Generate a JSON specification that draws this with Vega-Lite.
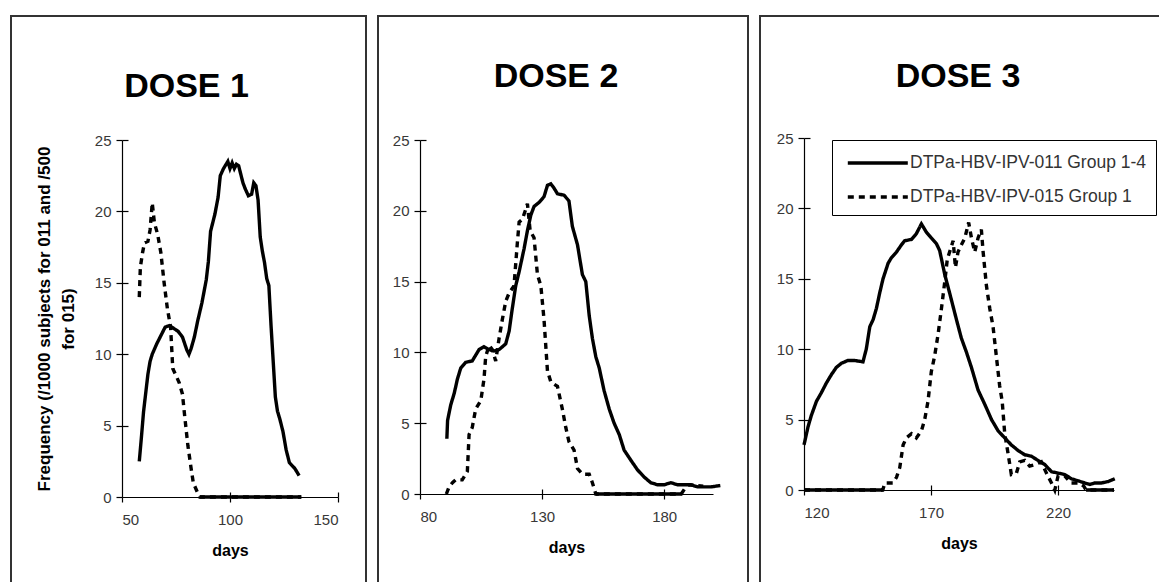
{
  "$schema": "https://vega.github.io/schema/vega-lite/v6.json",
  "padding": {"left": 10, "top": 15, "right": -7, "bottom": -9},
  "spacing": 10,
  "config": {
    "view": {"stroke": "#333", "strokeWidth": 2},
    "font": "Liberation Sans",
    "axis": {"grid": false, "domainColor": "black", "tickColor": "black", "domainWidth": 1.2, "tickWidth": 1.2, "labelColor": "#383838", "labelFont": "Liberation Sans", "labelFontSize": 15, "titleFont": "Liberation Sans", "titleFontSize": 16, "titleFontWeight": "bold", "titleColor": "black"},
    "title": {"font": "Liberation Sans", "fontSize": 34, "fontWeight": "bold", "color": "black", "anchor": "middle", "frame": "group", "baseline": "alphabetic"},
    "line": {"color": "black", "strokeWidth": 3.4, "strokeCap": "butt"}
  },
  "data": {"values": [
    {"dose":1,"series":"011","day":58,"freq":2.5},{"dose":1,"series":"011","day":59,"freq":4.2},{"dose":1,"series":"011","day":60,"freq":6.0},{"dose":1,"series":"011","day":61,"freq":7.3},{"dose":1,"series":"011","day":62,"freq":8.6},{"dose":1,"series":"011","day":63,"freq":9.5},{"dose":1,"series":"011","day":64,"freq":10.0},{"dose":1,"series":"011","day":66,"freq":10.7},{"dose":1,"series":"011","day":68,"freq":11.3},{"dose":1,"series":"011","day":70,"freq":11.9},{"dose":1,"series":"011","day":72,"freq":12.0},{"dose":1,"series":"011","day":74,"freq":11.8},{"dose":1,"series":"011","day":76,"freq":11.6},{"dose":1,"series":"011","day":78,"freq":11.2},{"dose":1,"series":"011","day":80,"freq":10.3},{"dose":1,"series":"011","day":81,"freq":10.0},{"dose":1,"series":"011","day":82,"freq":10.4},{"dose":1,"series":"011","day":83.5,"freq":11.2},{"dose":1,"series":"011","day":85,"freq":12.3},{"dose":1,"series":"011","day":87,"freq":13.6},{"dose":1,"series":"011","day":89,"freq":15.2},{"dose":1,"series":"011","day":90,"freq":16.5},{"dose":1,"series":"011","day":91,"freq":18.6},{"dose":1,"series":"011","day":93,"freq":19.8},{"dose":1,"series":"011","day":94.5,"freq":21.0},{"dose":1,"series":"011","day":95.5,"freq":22.5},{"dose":1,"series":"011","day":97,"freq":23.0},{"dose":1,"series":"011","day":99,"freq":23.5},{"dose":1,"series":"011","day":100,"freq":23.0},{"dose":1,"series":"011","day":101,"freq":23.4},{"dose":1,"series":"011","day":102,"freq":23.0},{"dose":1,"series":"011","day":103,"freq":23.3},{"dose":1,"series":"011","day":104,"freq":23.2},{"dose":1,"series":"011","day":105,"freq":22.6},{"dose":1,"series":"011","day":106,"freq":22.0},{"dose":1,"series":"011","day":107,"freq":21.6},{"dose":1,"series":"011","day":108.5,"freq":21.1},{"dose":1,"series":"011","day":110,"freq":21.2},{"dose":1,"series":"011","day":111,"freq":22.0},{"dose":1,"series":"011","day":112,"freq":21.8},{"dose":1,"series":"011","day":113,"freq":20.8},{"dose":1,"series":"011","day":114,"freq":18.2},{"dose":1,"series":"011","day":115,"freq":17.2},{"dose":1,"series":"011","day":116,"freq":16.4},{"dose":1,"series":"011","day":117,"freq":15.3},{"dose":1,"series":"011","day":118,"freq":14.8},{"dose":1,"series":"011","day":119,"freq":12.0},{"dose":1,"series":"011","day":120,"freq":9.5},{"dose":1,"series":"011","day":121,"freq":7.0},{"dose":1,"series":"011","day":122,"freq":6.0},{"dose":1,"series":"011","day":123,"freq":5.5},{"dose":1,"series":"011","day":124.5,"freq":4.6},{"dose":1,"series":"011","day":126,"freq":3.3},{"dose":1,"series":"011","day":127.5,"freq":2.4},{"dose":1,"series":"011","day":130,"freq":2.0},{"dose":1,"series":"011","day":132,"freq":1.5},
    {"dose":1,"series":"015","day":58,"freq":14.0},{"dose":1,"series":"015","day":58.5,"freq":16.1},{"dose":1,"series":"015","day":59.5,"freq":17.1},{"dose":1,"series":"015","day":60.4,"freq":17.8},{"dose":1,"series":"015","day":62,"freq":17.9},{"dose":1,"series":"015","day":63,"freq":18.7},{"dose":1,"series":"015","day":64,"freq":20.6},{"dose":1,"series":"015","day":65,"freq":19.2},{"dose":1,"series":"015","day":66.5,"freq":18.4},{"dose":1,"series":"015","day":68,"freq":17.1},{"dose":1,"series":"015","day":69.5,"freq":15.0},{"dose":1,"series":"015","day":71,"freq":13.2},{"dose":1,"series":"015","day":72.5,"freq":11.9},{"dose":1,"series":"015","day":73.5,"freq":9.0},{"dose":1,"series":"015","day":75,"freq":8.5},{"dose":1,"series":"015","day":76.5,"freq":8.0},{"dose":1,"series":"015","day":78,"freq":7.2},{"dose":1,"series":"015","day":79,"freq":5.7},{"dose":1,"series":"015","day":80.5,"freq":3.6},{"dose":1,"series":"015","day":82,"freq":2.0},{"dose":1,"series":"015","day":83,"freq":1.0},{"dose":1,"series":"015","day":85,"freq":0.3},{"dose":1,"series":"015","day":86,"freq":0},{"dose":1,"series":"015","day":133,"freq":0},
    {"dose":1,"series":"015z","day":86,"freq":0},{"dose":1,"series":"015z","day":133,"freq":0},
    {"dose":2,"series":"011","day":91,"freq":3.9},{"dose":2,"series":"011","day":91.3,"freq":5.2},{"dose":2,"series":"011","day":92.6,"freq":6.3},{"dose":2,"series":"011","day":94,"freq":7.1},{"dose":2,"series":"011","day":95.3,"freq":8.1},{"dose":2,"series":"011","day":96.7,"freq":8.9},{"dose":2,"series":"011","day":98.7,"freq":9.3},{"dose":2,"series":"011","day":101.4,"freq":9.4},{"dose":2,"series":"011","day":102.8,"freq":9.8},{"dose":2,"series":"011","day":104.2,"freq":10.2},{"dose":2,"series":"011","day":106.2,"freq":10.4},{"dose":2,"series":"011","day":108.3,"freq":10.2},{"dose":2,"series":"011","day":110.3,"freq":10.1},{"dose":2,"series":"011","day":112.4,"freq":10.2},{"dose":2,"series":"011","day":115.1,"freq":10.6},{"dose":2,"series":"011","day":116.5,"freq":11.5},{"dose":2,"series":"011","day":117.8,"freq":13.1},{"dose":2,"series":"011","day":119.2,"freq":14.7},{"dose":2,"series":"011","day":120.6,"freq":15.7},{"dose":2,"series":"011","day":122.6,"freq":17.3},{"dose":2,"series":"011","day":124,"freq":18.6},{"dose":2,"series":"011","day":125.4,"freq":19.7},{"dose":2,"series":"011","day":126.7,"freq":20.3},{"dose":2,"series":"011","day":128.8,"freq":20.6},{"dose":2,"series":"011","day":130.8,"freq":21.0},{"dose":2,"series":"011","day":132.2,"freq":21.8},{"dose":2,"series":"011","day":133.6,"freq":21.9},{"dose":2,"series":"011","day":134.9,"freq":21.6},{"dose":2,"series":"011","day":136.3,"freq":21.2},{"dose":2,"series":"011","day":139,"freq":21.1},{"dose":2,"series":"011","day":141,"freq":20.7},{"dose":2,"series":"011","day":142.4,"freq":18.9},{"dose":2,"series":"011","day":144.5,"freq":17.6},{"dose":2,"series":"011","day":146.5,"freq":15.5},{"dose":2,"series":"011","day":147.9,"freq":15.0},{"dose":2,"series":"011","day":149.3,"freq":12.6},{"dose":2,"series":"011","day":150.6,"freq":11.0},{"dose":2,"series":"011","day":152,"freq":9.7},{"dose":2,"series":"011","day":153.4,"freq":8.9},{"dose":2,"series":"011","day":155.4,"freq":7.3},{"dose":2,"series":"011","day":157.5,"freq":6.0},{"dose":2,"series":"011","day":159.5,"freq":5.0},{"dose":2,"series":"011","day":161.6,"freq":4.2},{"dose":2,"series":"011","day":163.6,"freq":3.1},{"dose":2,"series":"011","day":166.3,"freq":2.4},{"dose":2,"series":"011","day":169.1,"freq":1.7},{"dose":2,"series":"011","day":171.8,"freq":1.2},{"dose":2,"series":"011","day":174.5,"freq":0.8},{"dose":2,"series":"011","day":177.3,"freq":0.65},{"dose":2,"series":"011","day":180,"freq":0.65},{"dose":2,"series":"011","day":182.7,"freq":0.8},{"dose":2,"series":"011","day":185.5,"freq":0.65},{"dose":2,"series":"011","day":191,"freq":0.65},{"dose":2,"series":"011","day":193.7,"freq":0.5},{"dose":2,"series":"011","day":199.1,"freq":0.5},{"dose":2,"series":"011","day":203,"freq":0.6},
    {"dose":2,"series":"015","day":90.8,"freq":0},{"dose":2,"series":"015","day":91.9,"freq":0.5},{"dose":2,"series":"015","day":93.3,"freq":0.8},{"dose":2,"series":"015","day":94.6,"freq":1.0},{"dose":2,"series":"015","day":97.3,"freq":1.0},{"dose":2,"series":"015","day":99.4,"freq":1.6},{"dose":2,"series":"015","day":100.1,"freq":4.2},{"dose":2,"series":"015","day":101.4,"freq":4.7},{"dose":2,"series":"015","day":102.8,"freq":6.0},{"dose":2,"series":"015","day":104.9,"freq":6.6},{"dose":2,"series":"015","day":106.2,"freq":8.1},{"dose":2,"series":"015","day":106.9,"freq":9.7},{"dose":2,"series":"015","day":108.3,"freq":10.5},{"dose":2,"series":"015","day":109.6,"freq":10.2},{"dose":2,"series":"015","day":111,"freq":9.4},{"dose":2,"series":"015","day":112.4,"freq":11.0},{"dose":2,"series":"015","day":113.7,"freq":12.3},{"dose":2,"series":"015","day":115.1,"freq":13.6},{"dose":2,"series":"015","day":116.5,"freq":14.2},{"dose":2,"series":"015","day":118.5,"freq":14.7},{"dose":2,"series":"015","day":119.9,"freq":17.8},{"dose":2,"series":"015","day":120.6,"freq":19.2},{"dose":2,"series":"015","day":121.9,"freq":19.4},{"dose":2,"series":"015","day":123.3,"freq":20.1},{"dose":2,"series":"015","day":124,"freq":20.5},{"dose":2,"series":"015","day":125.1,"freq":18.6},{"dose":2,"series":"015","day":126.7,"freq":18.1},{"dose":2,"series":"015","day":128.1,"freq":15.5},{"dose":2,"series":"015","day":129.5,"freq":14.7},{"dose":2,"series":"015","day":130.8,"freq":12.3},{"dose":2,"series":"015","day":132.2,"freq":8.7},{"dose":2,"series":"015","day":133.6,"freq":7.9},{"dose":2,"series":"015","day":136.3,"freq":7.6},{"dose":2,"series":"015","day":138.3,"freq":6.0},{"dose":2,"series":"015","day":139.7,"freq":4.7},{"dose":2,"series":"015","day":141,"freq":3.7},{"dose":2,"series":"015","day":143.1,"freq":3.1},{"dose":2,"series":"015","day":144.5,"freq":1.8},{"dose":2,"series":"015","day":146.5,"freq":1.4},{"dose":2,"series":"015","day":149.3,"freq":1.4},{"dose":2,"series":"015","day":150.6,"freq":0.8},{"dose":2,"series":"015","day":152,"freq":0},{"dose":2,"series":"015","day":187,"freq":0},{"dose":2,"series":"015","day":188.5,"freq":0.4},{"dose":2,"series":"015","day":190,"freq":0.65},{"dose":2,"series":"015","day":193,"freq":0.6},{"dose":2,"series":"015","day":196,"freq":0.55},
    {"dose":2,"series":"015z","day":152,"freq":0},{"dose":2,"series":"015z","day":187,"freq":0},
    {"dose":3,"series":"011","day":120,"freq":3.2},{"dose":3,"series":"011","day":121.6,"freq":4.5},{"dose":3,"series":"011","day":122.9,"freq":5.3},{"dose":3,"series":"011","day":124.9,"freq":6.3},{"dose":3,"series":"011","day":126.8,"freq":6.9},{"dose":3,"series":"011","day":128.8,"freq":7.6},{"dose":3,"series":"011","day":130.8,"freq":8.2},{"dose":3,"series":"011","day":132.7,"freq":8.7},{"dose":3,"series":"011","day":134.7,"freq":9.0},{"dose":3,"series":"011","day":137.3,"freq":9.2},{"dose":3,"series":"011","day":139.9,"freq":9.2},{"dose":3,"series":"011","day":143.2,"freq":9.1},{"dose":3,"series":"011","day":144.5,"freq":10.0},{"dose":3,"series":"011","day":145.9,"freq":11.6},{"dose":3,"series":"011","day":147.2,"freq":12.1},{"dose":3,"series":"011","day":148.5,"freq":12.9},{"dose":3,"series":"011","day":149.8,"freq":14.0},{"dose":3,"series":"011","day":151.1,"freq":15.0},{"dose":3,"series":"011","day":153.1,"freq":16.1},{"dose":3,"series":"011","day":154.4,"freq":16.5},{"dose":3,"series":"011","day":156.4,"freq":16.9},{"dose":3,"series":"011","day":158.3,"freq":17.4},{"dose":3,"series":"011","day":159.6,"freq":17.7},{"dose":3,"series":"011","day":162.3,"freq":17.8},{"dose":3,"series":"011","day":164.2,"freq":18.2},{"dose":3,"series":"011","day":166.2,"freq":18.9},{"dose":3,"series":"011","day":168.2,"freq":18.3},{"dose":3,"series":"011","day":170.1,"freq":17.9},{"dose":3,"series":"011","day":172.1,"freq":17.5},{"dose":3,"series":"011","day":173.4,"freq":17.0},{"dose":3,"series":"011","day":175.4,"freq":15.3},{"dose":3,"series":"011","day":177.3,"freq":14.0},{"dose":3,"series":"011","day":180,"freq":12.1},{"dose":3,"series":"011","day":181.9,"freq":10.8},{"dose":3,"series":"011","day":183.9,"freq":9.8},{"dose":3,"series":"011","day":185.9,"freq":8.7},{"dose":3,"series":"011","day":188.5,"freq":7.1},{"dose":3,"series":"011","day":191.1,"freq":6.1},{"dose":3,"series":"011","day":193.8,"freq":5.0},{"dose":3,"series":"011","day":196.4,"freq":4.2},{"dose":3,"series":"011","day":199,"freq":3.7},{"dose":3,"series":"011","day":201.6,"freq":3.2},{"dose":3,"series":"011","day":204.3,"freq":2.8},{"dose":3,"series":"011","day":206.9,"freq":2.5},{"dose":3,"series":"011","day":209.5,"freq":2.4},{"dose":3,"series":"011","day":212.1,"freq":2.1},{"dose":3,"series":"011","day":214.8,"freq":1.8},{"dose":3,"series":"011","day":217.4,"freq":1.3},{"dose":3,"series":"011","day":220,"freq":1.2},{"dose":3,"series":"011","day":222.6,"freq":1.1},{"dose":3,"series":"011","day":225.2,"freq":0.8},{"dose":3,"series":"011","day":227.9,"freq":0.65},{"dose":3,"series":"011","day":230.5,"freq":0.5},{"dose":3,"series":"011","day":232.5,"freq":0.4},{"dose":3,"series":"011","day":234.4,"freq":0.5},{"dose":3,"series":"011","day":237.1,"freq":0.5},{"dose":3,"series":"011","day":239.7,"freq":0.6},{"dose":3,"series":"011","day":242.3,"freq":0.8},
    {"dose":3,"series":"015","day":120,"freq":0},{"dose":3,"series":"015","day":151,"freq":0},{"dose":3,"series":"015","day":151.8,"freq":0.5},{"dose":3,"series":"015","day":155,"freq":0.5},{"dose":3,"series":"015","day":156.4,"freq":0.9},{"dose":3,"series":"015","day":157.7,"freq":1.6},{"dose":3,"series":"015","day":159,"freq":3.2},{"dose":3,"series":"015","day":160.3,"freq":3.7},{"dose":3,"series":"015","day":162.3,"freq":4.0},{"dose":3,"series":"015","day":164.2,"freq":3.7},{"dose":3,"series":"015","day":166.2,"freq":4.2},{"dose":3,"series":"015","day":167.5,"freq":5.0},{"dose":3,"series":"015","day":168.8,"freq":6.3},{"dose":3,"series":"015","day":170.1,"freq":8.4},{"dose":3,"series":"015","day":171.4,"freq":9.5},{"dose":3,"series":"015","day":172.8,"freq":11.1},{"dose":3,"series":"015","day":174.1,"freq":12.9},{"dose":3,"series":"015","day":175.4,"freq":14.8},{"dose":3,"series":"015","day":176.4,"freq":16.4},{"dose":3,"series":"015","day":177.3,"freq":16.9},{"dose":3,"series":"015","day":178.7,"freq":17.7},{"dose":3,"series":"015","day":179.6,"freq":15.8},{"dose":3,"series":"015","day":180.6,"freq":16.9},{"dose":3,"series":"015","day":181.9,"freq":17.4},{"dose":3,"series":"015","day":183.3,"freq":17.9},{"dose":3,"series":"015","day":184.8,"freq":19.0},{"dose":3,"series":"015","day":185.9,"freq":17.9},{"dose":3,"series":"015","day":187.2,"freq":16.9},{"dose":3,"series":"015","day":188.5,"freq":17.9},{"dose":3,"series":"015","day":189.8,"freq":18.5},{"dose":3,"series":"015","day":190.5,"freq":16.9},{"dose":3,"series":"015","day":191.8,"freq":14.5},{"dose":3,"series":"015","day":193.1,"freq":12.9},{"dose":3,"series":"015","day":194.4,"freq":11.6},{"dose":3,"series":"015","day":195.7,"freq":9.5},{"dose":3,"series":"015","day":197,"freq":7.4},{"dose":3,"series":"015","day":198,"freq":6.3},{"dose":3,"series":"015","day":199,"freq":4.0},{"dose":3,"series":"015","day":200.3,"freq":2.6},{"dose":3,"series":"015","day":201.6,"freq":1.1},{"dose":3,"series":"015","day":203.6,"freq":1.2},{"dose":3,"series":"015","day":204.9,"freq":2.0},{"dose":3,"series":"015","day":206.9,"freq":2.1},{"dose":3,"series":"015","day":208.8,"freq":1.7},{"dose":3,"series":"015","day":210.8,"freq":1.8},{"dose":3,"series":"015","day":213.4,"freq":2.0},{"dose":3,"series":"015","day":215.4,"freq":1.2},{"dose":3,"series":"015","day":217.4,"freq":0.5},{"dose":3,"series":"015","day":218.7,"freq":0},{"dose":3,"series":"015","day":220,"freq":1.0},{"dose":3,"series":"015","day":222.6,"freq":1.0},{"dose":3,"series":"015","day":225,"freq":0.5},{"dose":3,"series":"015","day":228,"freq":0.5},{"dose":3,"series":"015","day":230,"freq":0.3},{"dose":3,"series":"015","day":231,"freq":0},{"dose":3,"series":"015","day":242,"freq":0},
    {"dose":3,"series":"015z","day":120,"freq":0},{"dose":3,"series":"015z","day":151,"freq":0},
    {"dose":3,"series":"015w","day":231,"freq":0},{"dose":3,"series":"015w","day":242,"freq":0}
  ]},
  "resolve": {"scale": {"strokeDash": "independent"}, "legend": {"strokeDash": "independent"}},
  "hconcat": [
    {
      "width": 355, "height": 575,
      "title": {"text": "DOSE 1", "offset": -88, "dx": -2},
      "transform": [{"filter": "datum.dose == 1"}],
      "layer": [
        {
          "mark": {"type": "line", "clip": false},
          "encoding": {
            "x": {"field": "day", "type": "quantitative", "scale": {"domain": [50, 150], "range": [111, 327], "nice": false, "zero": false},
                  "axis": {"values": [50, 100, 150], "offset": -94, "title": "days", "tickSize": 5, "labelPadding": 10, "titlePadding": 15}},
            "y": {"field": "freq", "type": "quantitative", "scale": {"domain": [0, 25], "range": [481, 124], "nice": false},
                  "axis": {"values": [0, 5, 10, 15, 20, 25], "offset": -111, "tickSize": 6, "labelPadding": 5, "title": ["Frequency (/1000 subjects for 011 and /500", "for 015)"], "titleFontSize": 17, "titleLineHeight": 24, "titlePadding": 17}},
            "strokeDash": {"field": "series", "type": "nominal", "scale": {"domain": ["011", "015", "015z", "015w"], "range": [[1, 0], [6, 5], [1, 0], [1, 0]]}, "legend": null}
          }
        },
        {
          "mark": {"type": "point", "opacity": 0},
          "encoding": {
            "x": {"field": "day", "type": "quantitative", "axis": {"orient": "top", "values": [100, 150], "offset": -481, "labels": false, "domain": false, "title": null, "tickSize": 5}},
            "y": {"field": "freq", "type": "quantitative", "axis": {"orient": "right", "values": [5, 10, 15, 20, 25], "offset": -244, "labels": false, "domain": false, "title": null, "tickSize": 6}}
          }
        }
      ],
      "resolve": {"axis": {"x": "independent", "y": "independent"}}
    },
    {
      "width": 370, "height": 575,
      "title": {"text": "DOSE 2", "offset": -78, "dx": -7},
      "transform": [{"filter": "datum.dose == 2"}],
      "layer": [
        {
          "mark": {"type": "line", "clip": false},
          "encoding": {
            "x": {"field": "day", "type": "quantitative", "scale": {"domain": [80, 200], "range": [42, 335], "nice": false, "zero": false},
                  "axis": {"values": [80, 130, 180], "offset": -97, "title": "days", "tickSize": 5, "labelPadding": 10, "titlePadding": 15}},
            "y": {"field": "freq", "type": "quantitative", "scale": {"domain": [0, 25], "range": [478, 124], "nice": false},
                  "axis": {"values": [0, 5, 10, 15, 20, 25], "offset": -42, "tickSize": 6, "labelPadding": 5, "title": null}},
            "strokeDash": {"field": "series", "type": "nominal", "scale": {"domain": ["011", "015", "015z", "015w"], "range": [[1, 0], [6, 5], [1, 0], [1, 0]]}, "legend": null}
          }
        },
        {
          "mark": {"type": "point", "opacity": 0},
          "encoding": {
            "x": {"field": "day", "type": "quantitative", "axis": {"orient": "top", "values": [130, 180], "offset": -478, "labels": false, "domain": false, "title": null, "tickSize": 5}},
            "y": {"field": "freq", "type": "quantitative", "axis": {"orient": "right", "values": [5, 10, 15, 20, 25], "offset": -328, "labels": false, "domain": false, "title": null, "tickSize": 6}}
          }
        }
      ],
      "resolve": {"axis": {"x": "independent", "y": "independent"}}
    },
    {
      "width": 410, "height": 575,
      "title": {"text": "DOSE 3", "offset": -78, "dx": -7},
      "transform": [{"filter": "datum.dose == 3"}],
      "layer": [
        {
          "mark": {"type": "line", "clip": false},
          "encoding": {
            "x": {"field": "day", "type": "quantitative", "scale": {"domain": [120, 242], "range": [44, 354], "nice": false, "zero": false},
                  "axis": {"values": [120, 170, 220], "offset": -101, "title": "days", "tickSize": 5, "labelPadding": 10, "titlePadding": 15}},
            "y": {"field": "freq", "type": "quantitative", "scale": {"domain": [0, 25], "range": [474, 122], "nice": false},
                  "axis": {"values": [0, 5, 10, 15, 20, 25], "offset": -44, "tickSize": 6, "labelPadding": 5, "title": null}},
            "strokeDash": {"field": "series", "type": "nominal", "scale": {"domain": ["011", "015", "015z", "015w"], "range": [[1, 0], [6, 5], [1, 0], [1, 0]]},
              "legend": {"orient": "none", "legendX": 72, "legendY": 124, "title": null, "direction": "vertical", "values": ["011", "015"],
                "labelExpr": "datum.label == '011' ? 'DTPa-HBV-IPV-011 Group 1-4' : 'DTPa-HBV-IPV-015 Group 1'",
                "labelFont": "Liberation Sans", "labelFontSize": 17.5, "labelColor": "#333", "labelOffset": 41, "labelLimit": 400,
                "symbolType": "M-0.6,0H4.4", "symbolSize": 576, "symbolStrokeWidth": 4.5, "symbolStrokeColor": "black", "symbolFillColor": "transparent",
                "padding": 9, "rowPadding": 11, "strokeColor": "black", "fillColor": "white"}}
          }
        },
        {
          "mark": {"type": "point", "opacity": 0},
          "encoding": {
            "x": {"field": "day", "type": "quantitative", "axis": {"orient": "top", "values": [170, 220], "offset": -474, "labels": false, "domain": false, "title": null, "tickSize": 5}},
            "y": {"field": "freq", "type": "quantitative", "axis": {"orient": "right", "values": [5, 10, 15, 20, 25], "offset": -366, "labels": false, "domain": false, "title": null, "tickSize": 6}}
          }
        }
      ],
      "resolve": {"axis": {"x": "independent", "y": "independent"}}
    }
  ]
}
